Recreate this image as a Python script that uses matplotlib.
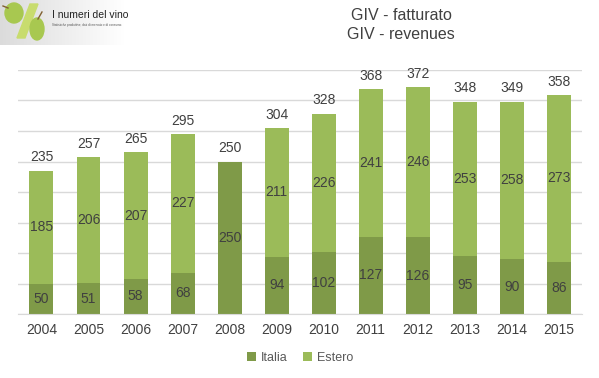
import matplotlib.pyplot as plt
import matplotlib.patches as mpatches
import numpy as np

years = ['2004', '2005', '2006', '2007', '2008', '2009', '2010', '2011', '2012', '2013', '2014', '2015']
italia = np.array([50, 51, 58, 68, 250, 94, 102, 127, 126, 95, 90, 86])
estero = np.array([185, 206, 207, 227, 0, 211, 226, 241, 246, 253, 258, 273])
totale = np.array([235, 257, 265, 295, 250, 304, 328, 368, 372, 348, 349, 358])

c_italia = '#7f9a48'
c_estero = '#9bbb59'
txt = '#404040'

plt.rcParams['font.family'] = ['Liberation Sans', 'DejaVu Sans']

fig = plt.figure(figsize=(5.99, 3.78), dpi=100)
ax = fig.add_axes([0.030, 0.169, 0.942, 0.646])

x = np.arange(len(years))
w = 0.51
ax.bar(x, italia, w, color=c_italia, label='Italia', zorder=2)
ax.bar(x, estero, w, bottom=italia, color=c_estero, label='Estero', zorder=2)

for i in range(len(years)):
    ax.text(x[i], italia[i] / 2, str(italia[i]), ha='center', va='center', fontsize=10, color=txt)
    if estero[i] > 0:
        ax.text(x[i], italia[i] + estero[i] / 2, str(estero[i]), ha='center', va='center', fontsize=10, color=txt)
    ax.text(x[i], totale[i] + 22, str(totale[i]), ha='center', va='center', fontsize=10, color=txt)

ax.set_xlim(-0.5, len(years) - 0.5)
ax.set_ylim(0, 400)
ax.set_yticks(np.arange(0, 401, 50))
ax.yaxis.grid(True, color='#d9d9d9', linewidth=1, zorder=0)
ax.set_axisbelow(True)
ax.tick_params(axis='y', left=False, labelleft=False)
ax.tick_params(axis='x', bottom=False, labelsize=10, labelcolor=txt, pad=3)
ax.set_xticks(x)
ax.set_xticklabels(years)
for s in ['top', 'right', 'left']:
    ax.spines[s].set_visible(False)
ax.spines['bottom'].set_color('#d9d9d9')

ax.legend(loc='upper center', bbox_to_anchor=(0.5, -0.11), ncol=2, frameon=False,
          fontsize=9, labelcolor='#595959', handlelength=0.7, handleheight=0.7,
          handletextpad=0.4, columnspacing=1.2)

# title
fig.text(0.67, 0.958, 'GIV - fatturato', ha='center', va='center', fontsize=11.5, color=txt)
fig.text(0.67, 0.908, 'GIV - revenues', ha='center', va='center', fontsize=11.5, color=txt)

# logo
lax = fig.add_axes([0.0, 0.881, 0.267, 0.119])
grad = np.linspace(0.86, 1.0, 100).reshape(1, -1)
lax.imshow(np.dstack([grad, grad, grad]), extent=(0, 125, 45, 0), aspect='auto', zorder=0)
lax.set_xlim(0, 160)
lax.set_ylim(45, 0)
lax.axis('off')
lax.add_patch(mpatches.Polygon([[17, 38], [25, 38], [38, 4], [30, 4]], color='#c8dc6e', zorder=1))
lax.add_patch(mpatches.Ellipse((14, 13), 18, 20, color='#a8c850', zorder=2))
lax.add_patch(mpatches.Ellipse((37, 29), 14, 22, color='#a8c850', zorder=2))
lax.plot([3, 8], [6, 8], color='#806030', lw=1, zorder=3)
lax.plot([38, 42], [19, 12], color='#806030', lw=1, zorder=3)
lax.text(52, 15, 'I numeri del vino', fontsize=7.5, color='#222222', va='center', ha='left')
lax.text(52, 25, 'Statistiche produttive, dati di mercato e di consumo.', fontsize=2.2, color='#555555',
         va='center', ha='left')

fig.savefig('out.png', dpi=100)
